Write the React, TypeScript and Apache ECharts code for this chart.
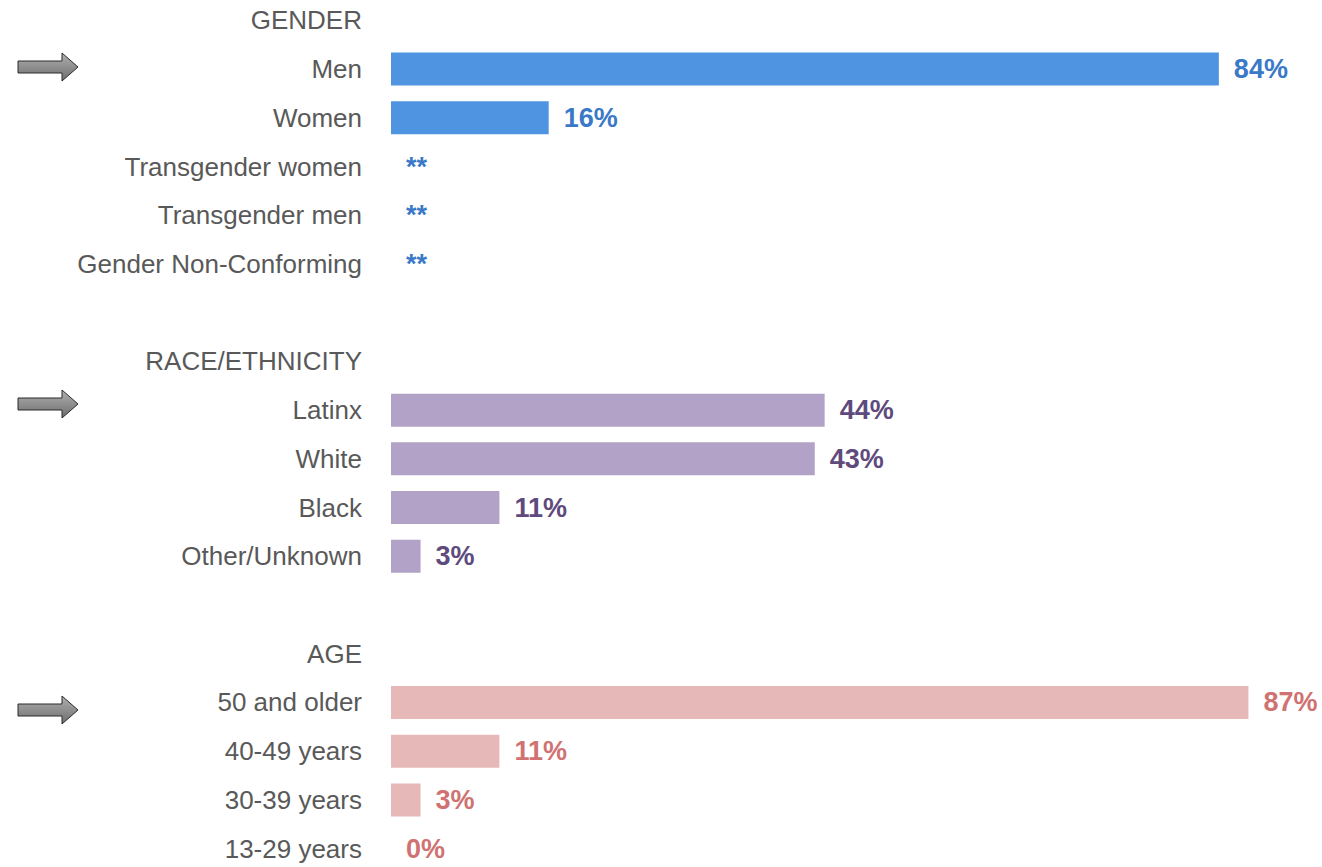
import React, { useEffect, useRef } from "react";
import * as echarts from "echarts";

const genderHeader = "GENDER";
const genderCats = ["Men", "Women", "Transgender women", "Transgender men", "Gender Non-Conforming"];
const genderValues: (number | null)[] = [84, 16, null, null, null];

const raceHeader = "RACE/ETHNICITY";
const raceCats = ["Latinx", "White", "Black", "Other/Unknown"];
const raceValues: (number | null)[] = [44, 43, 11, 3];

const ageHeader = "AGE";
const ageCats = ["50 and older", "40-49 years", "30-39 years", "13-29 years"];
const ageValues: (number | null)[] = [87, 11, 3, 0];

const groups = [
  { header: genderHeader, cats: genderCats, values: genderValues, bar: "#4F94E0", text: "#3A78C8" },
  { header: raceHeader, cats: raceCats, values: raceValues, bar: "#B3A2C8", text: "#5E4A7C" },
  { header: ageHeader, cats: ageCats, values: ageValues, bar: "#E6B8B7", text: "#D07272" },
];

const OFFSET = 5; // container is shifted up by this many pixels

function arrow(cy: number) {
  const x0 = 18, xh = 62, xt = 78, sh = 6, hh = 14;
  const y = cy + OFFSET;
  return {
    type: "polygon",
    shape: {
      points: [
        [x0, y - sh], [xh, y - sh], [xh, y - hh], [xt, y],
        [xh, y + hh], [xh, y + sh], [x0, y + sh],
      ],
    },
    style: {
      fill: new echarts.graphic.LinearGradient(0, 0, 0, 1, [
        { offset: 0, color: "#B0B0B0" },
        { offset: 1, color: "#6E6E6E" },
      ]),
      stroke: "#2b2b2b",
      lineWidth: 1,
    },
  };
}

export default function App() {
  const ref = useRef<HTMLDivElement>(null);
  useEffect(() => {
    if (!ref.current) return;
    const chart = echarts.init(ref.current, null, { renderer: "svg" });
    const categories: string[] = [];
    const data: any[] = [];
    groups.forEach((g, gi) => {
      if (gi > 0) {
        categories.push(" ".repeat(gi));
        data.push({ value: "-" });
      }
      categories.push(g.header);
      data.push({ value: "-" });
      g.cats.forEach((c, i) => {
        const v = g.values[i];
        categories.push(c);
        data.push({
          value: v === null ? 0 : v,
          itemStyle: { color: g.bar },
          label: { color: g.text, formatter: v === null ? "**" : "{c}%" },
        });
      });
    });
    chart.setOption({
      animation: false,
      grid: { left: 391, right: 44, top: 1, bottom: 0, containLabel: false },
      xAxis: { type: "value", min: 0, max: 90, show: false },
      yAxis: {
        type: "category",
        inverse: true,
        data: categories,
        axisLine: { show: false },
        axisTick: { show: false },
        splitLine: { show: false },
        axisLabel: {
          margin: 29,
          fontSize: 26,
          color: "#595959",
          fontFamily: "'Liberation Sans', Arial, sans-serif",
        },
      },
      series: [
        {
          type: "bar",
          barWidth: 33,
          data,
          label: {
            show: true,
            position: "right",
            distance: 15,
            fontSize: 27,
            fontWeight: "bold",
            fontFamily: "'Liberation Sans Narrow', 'Arial Narrow', 'Liberation Sans', sans-serif",
          },
        },
      ],
      graphic: [arrow(67), arrow(404), arrow(710)],
    });
    return () => chart.dispose();
  }, []);
  return (
    <div
      ref={ref}
      style={{ position: "fixed", left: 0, top: -OFFSET, width: 1322, height: 878, background: "#fff" }}
    />
  );
}
